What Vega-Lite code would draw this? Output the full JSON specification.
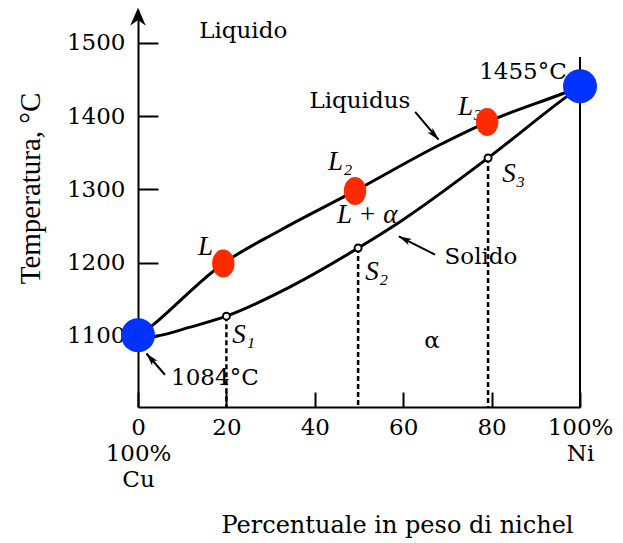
{
  "$schema": "https://vega.github.io/schema/vega-lite/v6.json",
  "width": 442,
  "height": 397,
  "autosize": {"type": "none"},
  "padding": {"left": 138, "top": 10, "right": 43, "bottom": 136},
  "background": "white",
  "config": {
    "view": {"stroke": null},
    "axis": {
      "domainColor": "black",
      "domainWidth": 2,
      "tickColor": "black",
      "tickWidth": 2,
      "grid": false,
      "labelFont": "DejaVu Serif",
      "labelFontSize": 23,
      "labelColor": "black",
      "titleColor": "black",
      "titleFontWeight": "normal"
    }
  },
  "datasets": {
    "liquidus": [
      {"x": 0, "t": 1098}, {"x": 3.4, "t": 1115}, {"x": 19.3, "t": 1199}, {"x": 32.1, "t": 1244},
      {"x": 49.1, "t": 1298}, {"x": 68.3, "t": 1361}, {"x": 79, "t": 1392}, {"x": 96.6, "t": 1432}, {"x": 100, "t": 1440}
    ],
    "solidus": [
      {"x": 0, "t": 1098}, {"x": 4.3, "t": 1100}, {"x": 11.8, "t": 1112}, {"x": 20, "t": 1127},
      {"x": 34.4, "t": 1167}, {"x": 49.8, "t": 1220}, {"x": 59.3, "t": 1256}, {"x": 79.2, "t": 1343},
      {"x": 96.6, "t": 1425}, {"x": 100, "t": 1440}
    ],
    "liqPoints": [{"x": 19.3, "t": 1199}, {"x": 49.1, "t": 1298}, {"x": 79, "t": 1392}],
    "solPoints": [{"x": 20, "t": 1127}, {"x": 49.8, "t": 1220}, {"x": 79.2, "t": 1343}],
    "melting": [{"x": 0, "t": 1101}, {"x": 100, "t": 1441}],
    "drops": [
      {"x": 20, "t": 1127, "t0": 1003},
      {"x": 49.8, "t": 1220, "t0": 1003},
      {"x": 79.2, "t": 1343, "t0": 1003}
    ],
    "border": [{"x": 100, "t": 1481, "t0": 1003}],
    "arrows": [
      {"name": "Liquidus", "x": 62.7, "t": 1406, "x2": 68.0, "t2": 1368},
      {"name": "Solido", "x": 67.2, "t": 1211, "x2": 59.0, "t2": 1236},
      {"name": "1084", "x": 6.1, "t": 1047, "x2": 1.9, "t2": 1076}
    ],
    "labels": [
      {"label": "Liquido", "x": 23.8, "t": 1517},
      {"label": "Liquidus", "x": 50.2, "t": 1421},
      {"label": "1455°C", "x": 87.1, "t": 1461},
      {"label": "Solido", "x": 77.6, "t": 1208},
      {"label": "α", "x": 66.5, "t": 1093},
      {"label": "1084°C", "x": 17.4, "t": 1043}
    ],
    "italicLabels": [
      {"label": "L₁", "x": 13.6, "t": 1221},
      {"label": "L₂", "x": 43, "t": 1337},
      {"label": "L₃", "x": 72.4, "t": 1412},
      {"label": "S₁", "x": 21.3, "t": 1101},
      {"label": "S₂", "x": 51.4, "t": 1187},
      {"label": "S₃", "x": 82.4, "t": 1321},
      {"label": "L + α", "x": 45, "t": 1265}
    ]
  },
  "encoding": {
    "x": {"field": "x", "type": "quantitative"},
    "y": {"field": "t", "type": "quantitative"}
  },
  "layer": [
    {
      "data": {"name": "border"},
      "mark": {"type": "rule", "color": "black", "strokeWidth": 2},
      "encoding": {
        "x": {
          "field": "x", "type": "quantitative",
          "scale": {"domain": [0, 100], "nice": false, "zero": false},
          "axis": {
            "values": [0, 20, 40, 60, 80, 100],
            "tickSize": -15,
            "labelPadding": 24,
            "labelFlush": false,
            "labelOverlap": false,
            "labelLineHeight": 26,
            "labelExpr": "datum.value == 0 ? ['0', '100%', 'Cu'] : datum.value == 100 ? ['100%', 'Ni'] : datum.label",
            "title": "Percentuale in peso di nichel",
            "titleFont": "DejaVu Serif",
            "titleFontSize": 24,
            "titleX": 259,
            "titleY": 118,
            "titleBaseline": "middle",
            "titleAlign": "center"
          }
        },
        "y": {
          "field": "t", "type": "quantitative",
          "scale": {"domain": [1003, 1545], "nice": false, "zero": false},
          "axis": {
            "values": [1100, 1200, 1300, 1400, 1500],
            "format": "d",
            "tickSize": -20,
            "labelPadding": 33,
            "labelFlush": false,
            "title": "Temperatura, °C",
            "titleFont": "Liberation Serif",
            "titleFontSize": 29,
            "titleAngle": 270,
            "titleX": -108,
            "titleY": 178,
            "titleBaseline": "middle",
            "titleAlign": "center"
          }
        },
        "y2": {"field": "t0"}
      }
    },
    {
      "data": {"name": "drops"},
      "mark": {"type": "rule", "color": "black", "strokeWidth": 2.5, "strokeDash": [5, 3]},
      "encoding": {"y2": {"field": "t0"}}
    },
    {
      "data": {"name": "liquidus"},
      "mark": {"type": "line", "color": "black", "strokeWidth": 3, "interpolate": "monotone"},
      "encoding": {"order": {"field": "x", "type": "quantitative"}}
    },
    {
      "data": {"name": "solidus"},
      "mark": {"type": "line", "color": "black", "strokeWidth": 3, "interpolate": "monotone"},
      "encoding": {"order": {"field": "x", "type": "quantitative"}}
    },
    {
      "data": {"name": "arrows"},
      "mark": {"type": "rule", "color": "black", "strokeWidth": 2},
      "encoding": {"x2": {"field": "x2"}, "y2": {"field": "t2"}}
    },
    {
      "data": {"name": "arrows"},
      "transform": [{"filter": "datum.name == 'Liquidus'"}],
      "mark": {"type": "point", "shape": "M0,0L0.45,1.6L0,1.2L-0.45,1.6Z", "filled": true, "color": "black", "opacity": 1, "size": 256, "angle": 138},
      "encoding": {"x": {"field": "x2", "type": "quantitative"}, "y": {"field": "t2", "type": "quantitative"}}
    },
    {
      "data": {"name": "arrows"},
      "transform": [{"filter": "datum.name == 'Solido'"}],
      "mark": {"type": "point", "shape": "M0,0L0.45,1.6L0,1.2L-0.45,1.6Z", "filled": true, "color": "black", "opacity": 1, "size": 256, "angle": 297},
      "encoding": {"x": {"field": "x2", "type": "quantitative"}, "y": {"field": "t2", "type": "quantitative"}}
    },
    {
      "data": {"name": "arrows"},
      "transform": [{"filter": "datum.name == '1084'"}],
      "mark": {"type": "point", "shape": "M0,0L0.45,1.6L0,1.2L-0.45,1.6Z", "filled": true, "color": "black", "opacity": 1, "size": 256, "angle": 319},
      "encoding": {"x": {"field": "x2", "type": "quantitative"}, "y": {"field": "t2", "type": "quantitative"}}
    },
    {
      "data": {"values": [{"x": 0, "t": 1548}]},
      "mark": {"type": "point", "shape": "M0,0L0.7,1.6L0,1.1L-0.7,1.6Z", "filled": true, "color": "black", "opacity": 1, "size": 500}
    },
    {
      "data": {"name": "labels"},
      "mark": {"type": "text", "font": "DejaVu Serif", "fontSize": 23, "color": "black", "align": "center", "baseline": "middle"},
      "encoding": {"text": {"field": "label"}}
    },
    {
      "data": {"name": "italicLabels"},
      "mark": {"type": "text", "font": "Liberation Serif", "fontStyle": "italic", "fontSize": 27, "color": "black", "align": "left", "baseline": "middle"},
      "encoding": {"text": {"field": "label"}}
    },
    {
      "data": {"name": "solPoints"},
      "mark": {"type": "point", "shape": "circle", "filled": false, "color": "black", "fill": "white", "fillOpacity": 1, "strokeWidth": 2, "opacity": 1, "size": 49}
    },
    {
      "data": {"name": "liqPoints"},
      "mark": {"type": "point", "shape": "M-0.8,0A0.8,1,0,1,0,0.8,0A0.8,1,0,1,0,-0.8,0Z", "filled": true, "color": "#ff2a00", "opacity": 1, "size": 784}
    },
    {
      "data": {"name": "melting"},
      "mark": {"type": "point", "shape": "circle", "filled": true, "color": "#0033ff", "opacity": 1, "size": 1156}
    }
  ]
}
